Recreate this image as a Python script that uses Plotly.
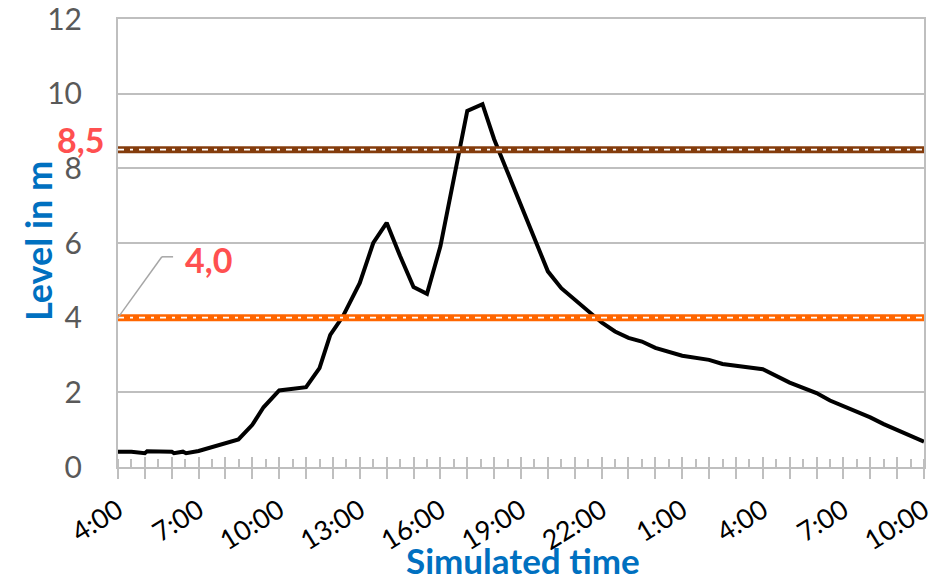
import plotly.graph_objects as go

# ---- data ----
times = [
    "2020-01-01 04:00", "2020-01-01 04:30", "2020-01-01 05:00", "2020-01-01 05:05",
    "2020-01-01 06:00", "2020-01-01 06:05", "2020-01-01 06:25", "2020-01-01 06:32",
    "2020-01-01 07:00", "2020-01-01 08:29", "2020-01-01 09:00", "2020-01-01 09:25",
    "2020-01-01 10:00", "2020-01-01 11:00", "2020-01-01 11:30", "2020-01-01 11:54",
    "2020-01-01 12:22", "2020-01-01 13:00", "2020-01-01 13:30", "2020-01-01 14:00",
    "2020-01-01 14:30", "2020-01-01 15:00", "2020-01-01 15:30", "2020-01-01 16:00",
    "2020-01-01 17:00", "2020-01-01 17:34", "2020-01-01 18:00", "2020-01-01 19:00",
    "2020-01-01 20:00", "2020-01-01 20:30", "2020-01-01 21:00", "2020-01-01 21:45",
    "2020-01-01 22:00", "2020-01-01 22:30", "2020-01-01 23:00", "2020-01-01 23:30",
    "2020-01-02 00:00", "2020-01-02 01:00", "2020-01-02 02:00", "2020-01-02 02:30",
    "2020-01-02 04:00", "2020-01-02 05:00", "2020-01-02 06:00", "2020-01-02 06:30",
    "2020-01-02 08:00", "2020-01-02 08:30", "2020-01-02 10:00",
]
level = [
    0.41, 0.41, 0.37, 0.42,
    0.41, 0.37, 0.41, 0.37,
    0.43, 0.74, 1.13, 1.60,
    2.05, 2.14, 2.65, 3.54,
    4.03, 4.93, 6.00, 6.54,
    5.65, 4.82, 4.64, 5.91,
    9.54, 9.72, 8.78, 7.00,
    5.24, 4.79, 4.48, 3.99,
    3.87, 3.63, 3.46, 3.36,
    3.19, 2.98, 2.87, 2.76,
    2.62, 2.26, 1.98, 1.78,
    1.33, 1.15, 0.68,
]
threshold_high = 8.5
threshold_low = 4.0
threshold_high_label = "8,5"
threshold_low_label = "4,0"
y_ticks = [0, 2, 4, 6, 8, 10, 12]
x_start = "2020-01-01 04:00"
x_end = "2020-01-02 10:00"
x_title = "Simulated time"
y_title = "Level in m"

FONT = "Lato, 'Open Sans', sans-serif"
GRID = "#BFBFBF"
BROWN = "#843C0C"
ORANGE = "#FF6600"
RED = "#FF5050"
BLUE = "#0070C0"

fig = go.Figure()

# main level curve
fig.add_trace(go.Scatter(x=times, y=level, mode="lines",
                         line=dict(color="black", width=4), showlegend=False,
                         hoverinfo="skip"))

# threshold lines (thick coloured band + white dash-dot centre)
for val, col in [(threshold_high, BROWN), (threshold_low, ORANGE)]:
    fig.add_trace(go.Scatter(x=[x_start, x_end], y=[val, val], mode="lines",
                             line=dict(color=col, width=7), showlegend=False,
                             hoverinfo="skip"))
    fig.add_trace(go.Scatter(x=[x_start, x_end], y=[val, val], mode="lines",
                             line=dict(color="white", width=1.6, dash="6px,6px,3px,6px"),
                             showlegend=False, hoverinfo="skip"))

# leader line for the 4,0 label
fig.add_shape(type="line", xref="x", yref="y",
              x0="2020-01-01 04:00", y0=threshold_low,
              x1="2020-01-01 05:38", y1=5.63,
              line=dict(color="#A6A6A6", width=1.5))
fig.add_shape(type="line", xref="x", yref="y",
              x0="2020-01-01 05:38", y0=5.63,
              x1="2020-01-01 06:03", y1=5.63,
              line=dict(color="#A6A6A6", width=1.5))

fig.add_annotation(text=f"<b>{threshold_low_label}</b>", xref="x", yref="y",
                   x="2020-01-01 07:22", y=5.56, xanchor="center", showarrow=False,
                   font=dict(family=FONT, size=34, color=RED))
fig.add_annotation(text=f"<b>{threshold_high_label}</b>", xref="paper", yref="y",
                   x=-0.046, y=8.76, xanchor="center", showarrow=False,
                   font=dict(family=FONT, size=34, color=RED))

# axis titles
fig.add_annotation(text=f"<b>{x_title}</b>", xref="paper", yref="paper",
                   x=0.503, y=-0.26, xanchor="center", yanchor="bottom",
                   showarrow=False, font=dict(family=FONT, size=35, color=BLUE))
fig.add_annotation(text=f"<b>{y_title}</b>", xref="paper", yref="paper",
                   x=-0.099, y=0.505, xanchor="center", yanchor="middle",
                   textangle=-90, showarrow=False,
                   font=dict(family=FONT, size=36, color=BLUE))

fig.update_layout(
    width=946, height=580,
    margin=dict(l=118, r=22, t=19, b=113, autoexpand=False),
    paper_bgcolor="white", plot_bgcolor="white",
    font=dict(family=FONT, color="#595959"),
    xaxis=dict(
        type="date", range=[x_start, x_end], automargin=False,
        tick0=x_start, dtick=3600000, ticklabelstep=3,
        tickformat="%-H:%M", tickangle=-32,
        tickfont=dict(family=FONT, size=27, color="black"),
        ticklabelstandoff=5, ticklabeloverflow="allow",
        ticks="outside", ticklen=10, tickwidth=2, tickcolor=GRID,
        minor=dict(dtick=1800000, ticks="inside", ticklen=8, tickwidth=2,
                   tickcolor=GRID, showgrid=False),
        showgrid=False, showline=True, linecolor=GRID, linewidth=2,
        mirror=True, zeroline=False,
    ),
    xaxis2=dict(
        type="date", range=[x_start, x_end], overlaying="x", automargin=False,
        tick0=x_start, dtick=3600000, showticklabels=False,
        ticks="inside", ticklen=10, tickwidth=2, tickcolor=GRID,
        showgrid=False, showline=False, zeroline=False, side="bottom",
    ),
    yaxis=dict(
        range=[0, 12], tickvals=y_ticks, automargin=False,
        tickfont=dict(family=FONT, size=30, color="#595959"),
        ticklabelstandoff=28, ticklabeloverflow="allow",
        showgrid=True, gridcolor=GRID, gridwidth=2,
        showline=True, linecolor=GRID, linewidth=2, mirror=True,
        zeroline=False, ticks="",
    ),
)

# dummy trace to activate the secondary x axis (hourly crossing ticks)
fig.add_trace(go.Scatter(x=[x_start], y=[None], xaxis="x2", mode="lines",
                         showlegend=False, hoverinfo="skip"))

# remove the default 8px page margin so the figure fills the window exactly
fig.write_html("out.html", config={"displayModeBar": False},
               post_script="document.body.style.margin='0';")
